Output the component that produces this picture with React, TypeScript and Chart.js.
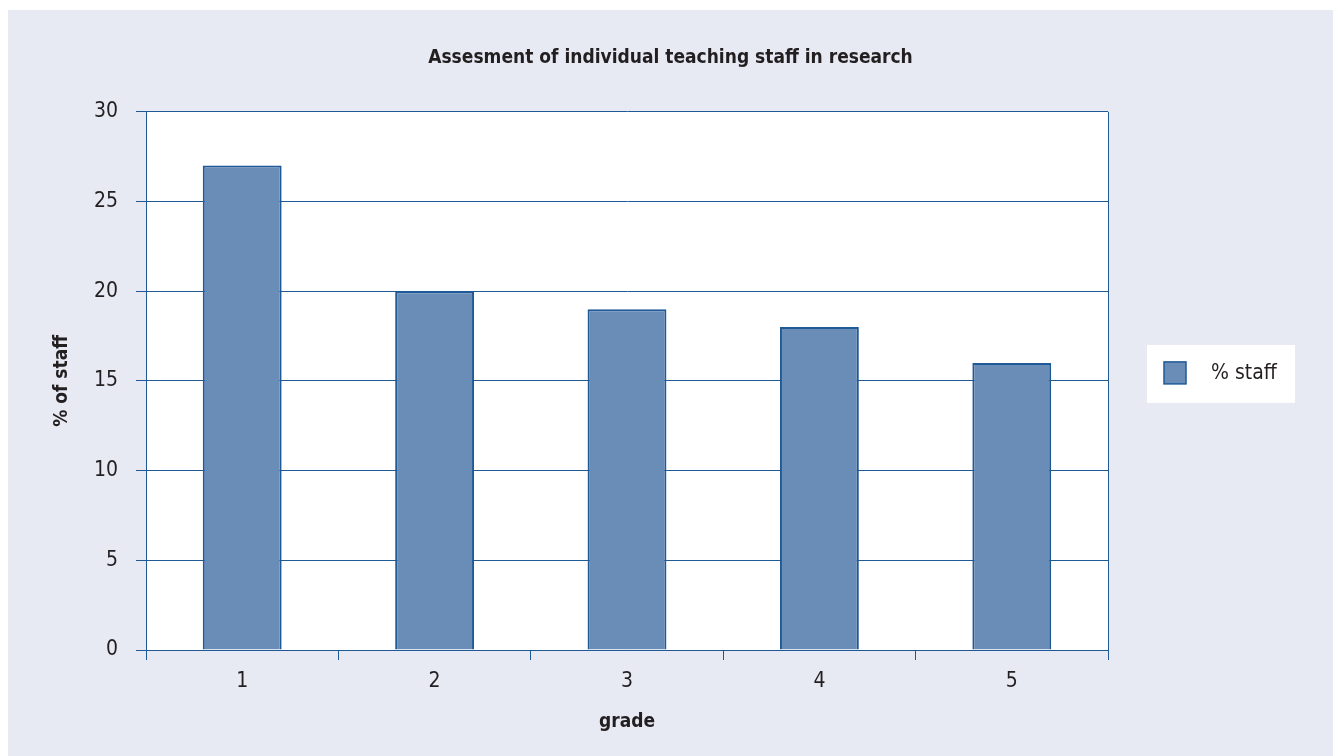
import React, { useEffect, useRef } from 'react';
import { Chart, registerables } from 'chart.js';

Chart.register(...registerables);

const categories = ['1', '2', '3', '4', '5'];
const staffPercent = [27, 20, 19, 18, 16];
const yMin = 0;
const yMax = 30;
const yStep = 5;
const seriesLabel = '% staff';
const chartTitle = 'Assesment of individual teaching staff in research';
const xTitle = 'grade';
const yTitle = '% of staff';

const BG = '#E7E9F3';
const LINE = '#1F5A97';
const BAR = '#6A8DB8';
const TEXT = '#231F20';
const FONT = '"Liberation Sans Narrow", "DejaVu Sans Condensed", "Roboto Condensed", sans-serif';

const W = 1325;
const H = 746;

const framePlugin = {
  id: 'frame',
  beforeDraw(chart: any) {
    const { ctx, chartArea } = chart;
    ctx.save();
    ctx.fillStyle = '#FFFFFF';
    ctx.fillRect(chartArea.left, chartArea.top, chartArea.right - chartArea.left, chartArea.bottom - chartArea.top);
    ctx.restore();
  },
  afterDraw(chart: any) {
    const { ctx, chartArea } = chart;
    ctx.save();
    ctx.strokeStyle = LINE;
    ctx.lineWidth = 1;
    ctx.beginPath();
    ctx.moveTo(Math.round(chartArea.right) + 0.5, chartArea.top);
    ctx.lineTo(Math.round(chartArea.right) + 0.5, chartArea.bottom);
    ctx.stroke();

    // legend
    const ds = chart.data.datasets[0];
    const bx = chartArea.right + 39;
    const by = (chartArea.top + chartArea.bottom) / 2 - 36;
    const bw = 148;
    const bh = 58;
    ctx.fillStyle = '#FFFFFF';
    ctx.fillRect(bx, by, bw, bh);
    ctx.fillStyle = ds.backgroundColor;
    ctx.fillRect(bx + 17, by + 17, 22, 22);
    ctx.strokeStyle = ds.borderColor;
    ctx.lineWidth = 1.5;
    ctx.strokeRect(bx + 17, by + 17, 22, 22);
    ctx.fillStyle = TEXT;
    ctx.font = `21px ${FONT}`;
    ctx.textAlign = 'left';
    ctx.textBaseline = 'middle';
    ctx.fillText(ds.label, bx + 64, by + 29);
    ctx.restore();
  },
};

export default function App() {
  const ref = useRef<HTMLCanvasElement | null>(null);

  useEffect(() => {
    if (!ref.current) return;
    const chart = new Chart(ref.current, {
      type: 'bar',
      data: {
        labels: categories,
        datasets: [
          {
            label: seriesLabel,
            data: staffPercent,
            backgroundColor: BAR,
            borderColor: LINE,
            borderWidth: 2,
            categoryPercentage: 1,
            barPercentage: 0.41,
          },
        ],
      },
      options: {
        animation: false,
        responsive: false,
        devicePixelRatio: 1,
        layout: { padding: 0 },
        plugins: {
          legend: { display: false },
          tooltip: { enabled: false },
          title: {
            display: true,
            text: chartTitle,
            color: TEXT,
            font: { family: FONT, size: 19, weight: 'bold' },
            padding: { top: 37, bottom: 42 },
          },
        },
        scales: {
          x: {
            offset: true,
            grid: {
              offset: true,
              drawOnChartArea: false,
              drawTicks: true,
              tickLength: 10,
              color: LINE,
            },
            border: { display: true, color: LINE, width: 1 },
            ticks: {
              color: TEXT,
              font: { family: FONT, size: 21 },
              padding: 9,
            },
            title: {
              display: true,
              text: xTitle,
              color: TEXT,
              font: { family: FONT, size: 19, weight: 'bold' },
              padding: { top: 0, bottom: 23 },
            },
            afterFit(scale: any) {
              scale.height = 106;
            },
          },
          y: {
            min: yMin,
            max: yMax,
            ticks: {
              stepSize: yStep,
              color: TEXT,
              font: { family: FONT, size: 21 },
              padding: 18,
            },
            grid: {
              color: LINE,
              lineWidth: 1,
              drawTicks: true,
              tickLength: 10,
            },
            border: { display: true, color: LINE, width: 1 },
            title: {
              display: true,
              text: yTitle,
              color: TEXT,
              font: { family: FONT, size: 19, weight: 'bold' },
              padding: { top: 43, bottom: 0 },
            },
            afterFit(scale: any) {
              scale.width = 138;
            },
          },
          legendSpace: {
            type: 'linear',
            position: 'right',
            display: true,
            grid: { display: false, drawTicks: false },
            border: { display: false },
            ticks: { display: false },
            afterFit(scale: any) {
              scale.width = 225;
            },
          },
        },
      },
      plugins: [framePlugin],
    } as any);
    return () => chart.destroy();
  }, []);

  return (
    <div
      style={{
        position: 'fixed',
        left: 8,
        top: 10,
        width: W,
        height: H,
        background: BG,
      }}
    >
      <canvas ref={ref} width={W} height={H} style={{ display: 'block', width: W, height: H }} />
    </div>
  );
}
